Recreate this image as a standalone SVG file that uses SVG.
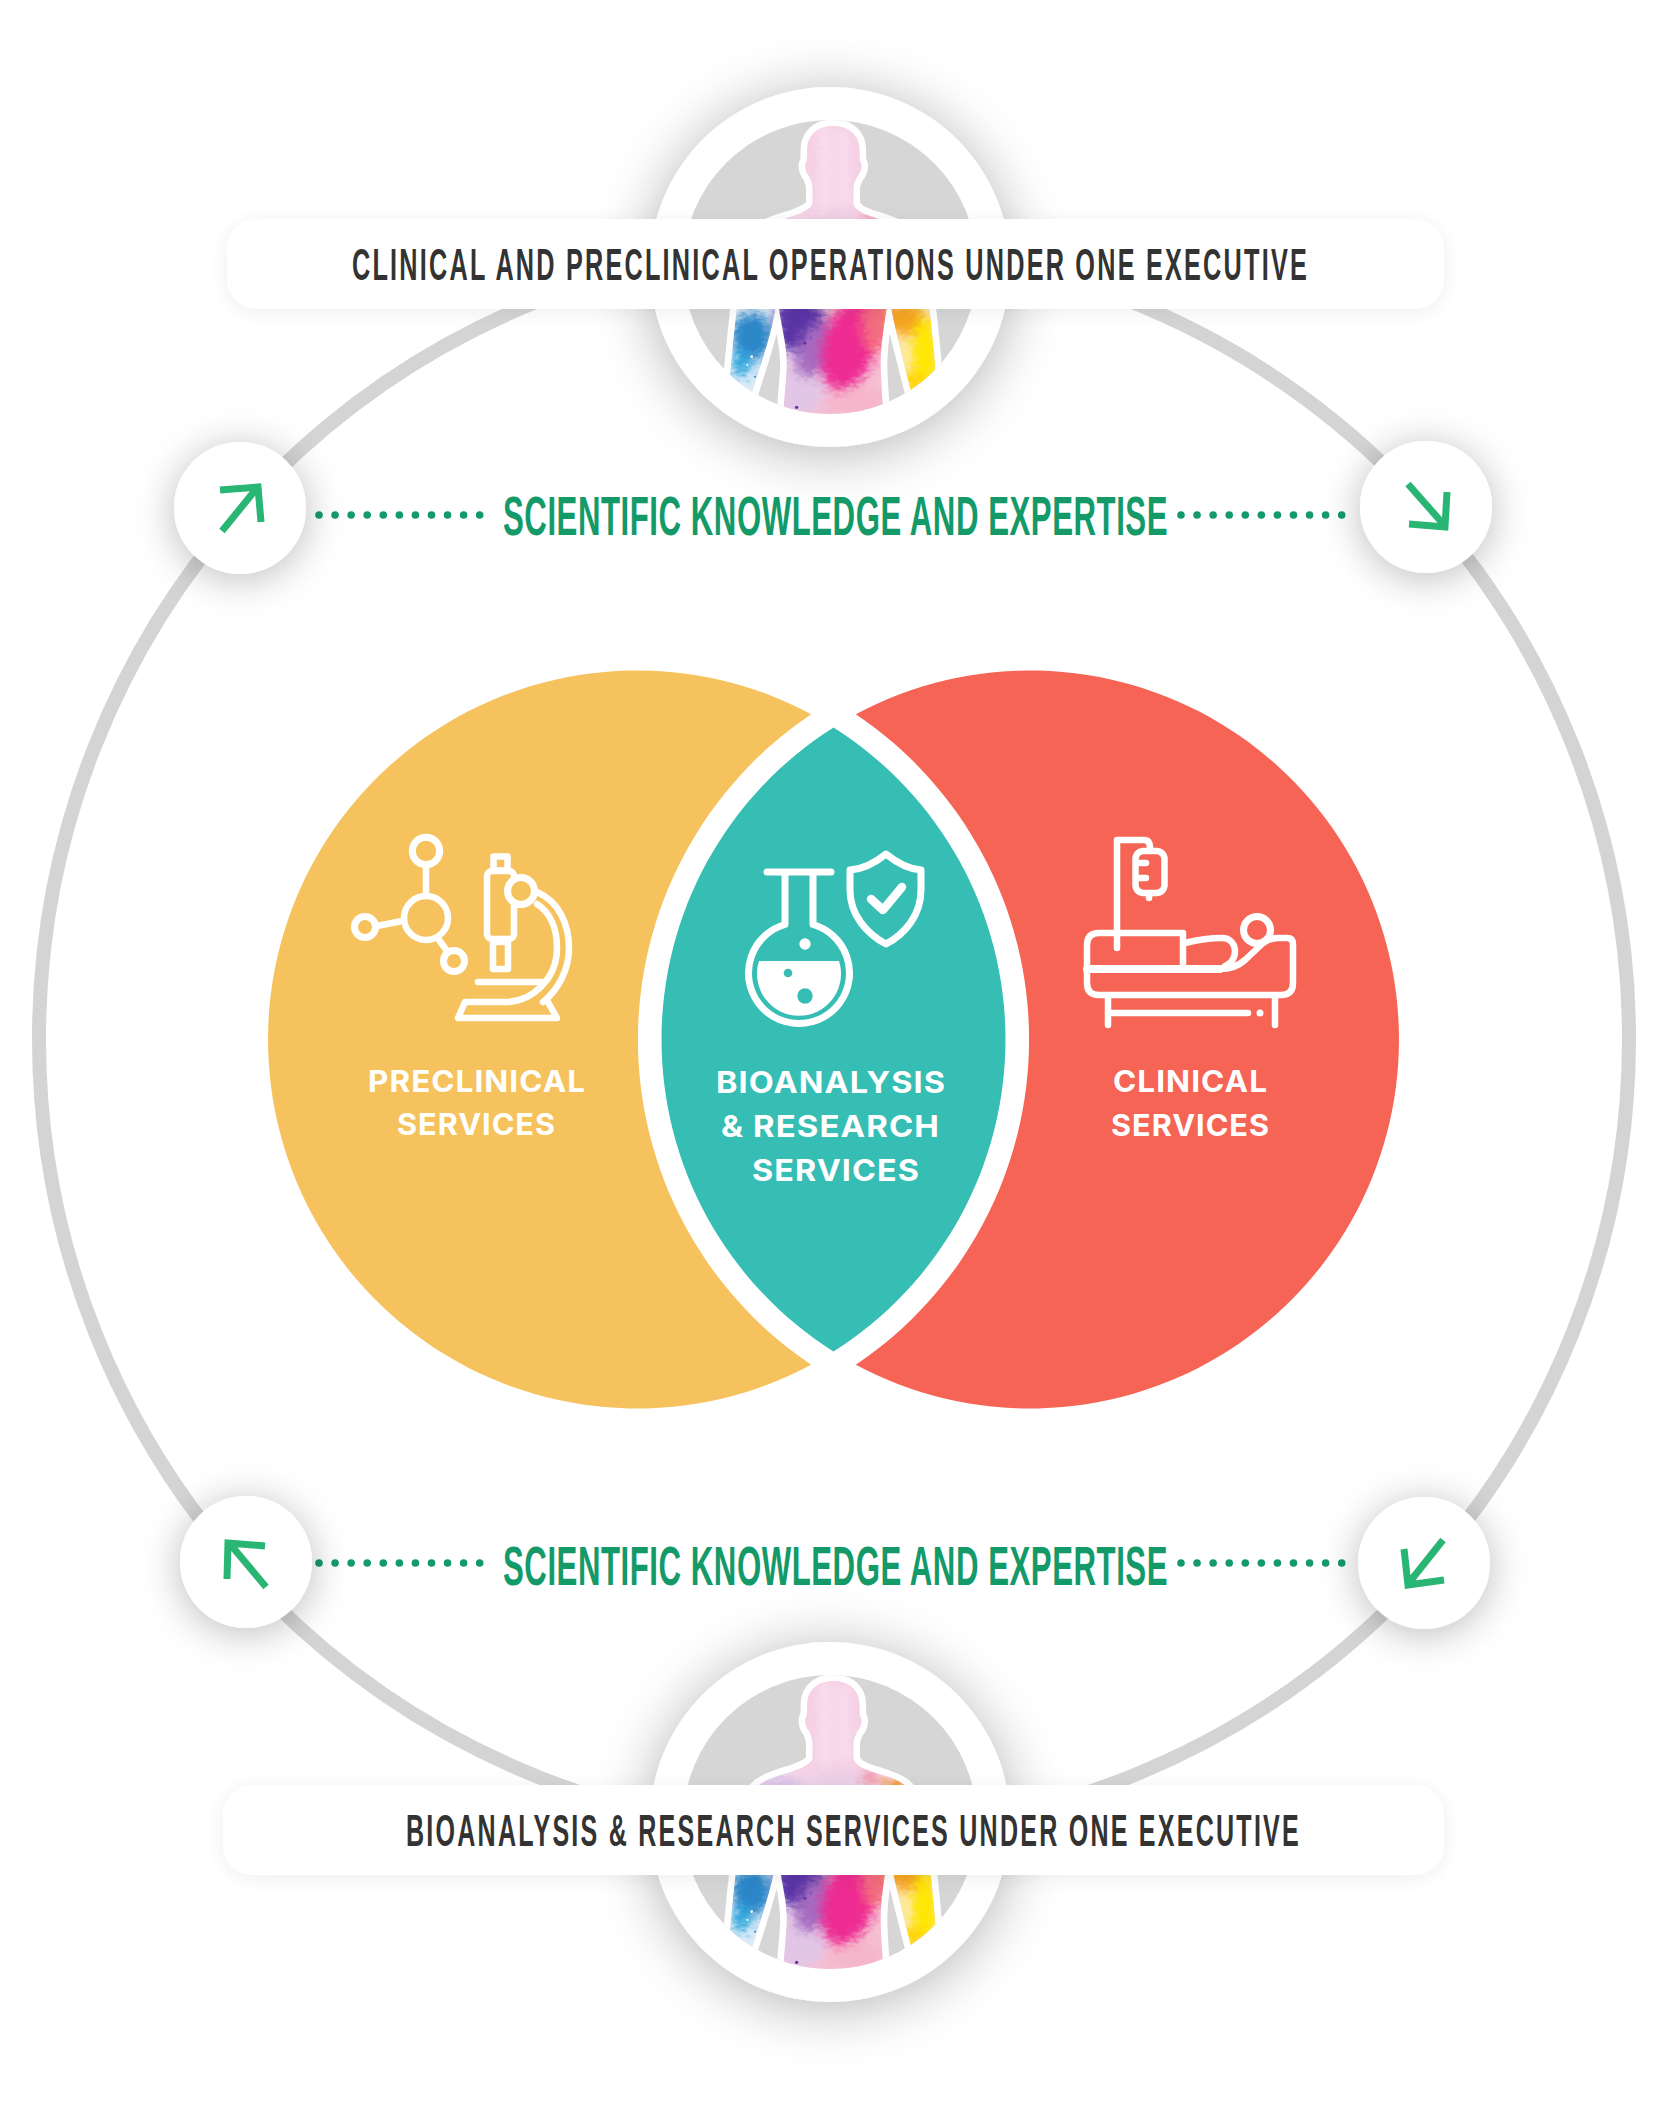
<svg xmlns="http://www.w3.org/2000/svg" xmlns:xlink="http://www.w3.org/1999/xlink" width="1675" height="2103" viewBox="0 0 1675 2103">
<style>
.ring{fill:none;stroke:#d4d4d4;stroke-width:14}
.dots{fill:none;stroke:#149a69;stroke-width:7.6;stroke-linecap:round;stroke-dasharray:0 16.07}
.arrow{fill:none;stroke:#29b573;stroke-width:7;stroke-linecap:butt;stroke-linejoin:miter}
.disc{fill:#fff}
.sci{font-family:"Liberation Sans Narrow","Liberation Sans",sans-serif;font-weight:700;font-size:56px;letter-spacing:1px;fill:#149a69}
.bar-t{font-family:"Liberation Sans Narrow","Liberation Sans",sans-serif;font-weight:700;font-size:45px;letter-spacing:4px;fill:#333}
.lab{font-family:Inter,"Liberation Sans",sans-serif;font-weight:700;font-size:30px;letter-spacing:1px;fill:#fff}
.ic{fill:none;stroke:#fff;stroke-width:6.5;stroke-linecap:round;stroke-linejoin:round}
.wf{fill:#fff}
</style>
<defs>
<filter id="sh" x="-70%" y="-70%" width="240%" height="240%"><feGaussianBlur in="SourceAlpha" stdDeviation="30"/><feOffset dy="6"/><feComponentTransfer><feFuncA type="linear" slope="0.3"/></feComponentTransfer><feMerge><feMergeNode/><feMergeNode in="SourceGraphic"/></feMerge></filter>
<filter id="shs" x="-70%" y="-70%" width="240%" height="240%"><feGaussianBlur in="SourceAlpha" stdDeviation="20"/><feOffset dy="5"/><feComponentTransfer><feFuncA type="linear" slope="0.27"/></feComponentTransfer><feMerge><feMergeNode/><feMergeNode in="SourceGraphic"/></feMerge></filter>
<filter id="shb" x="-10%" y="-60%" width="120%" height="220%"><feGaussianBlur in="SourceAlpha" stdDeviation="10"/><feOffset dy="3"/><feComponentTransfer><feFuncA type="linear" slope="0.07"/></feComponentTransfer><feMerge><feMergeNode/><feMergeNode in="SourceGraphic"/></feMerge></filter>
<filter id="powder" x="-10%" y="-10%" width="120%" height="120%" color-interpolation-filters="sRGB"><feGaussianBlur stdDeviation="16" result="b"/><feTurbulence type="fractalNoise" baseFrequency="0.05 0.09" numOctaves="3" seed="4" result="n"/><feDisplacementMap in="b" in2="n" scale="35" xChannelSelector="R" yChannelSelector="G"/></filter>
<clipPath id="dial"><circle cx="570" cy="561" r="441"/></clipPath>
<path id="sil" d="M580 138C535 138 503 165 502 205C501 225 503 240 497 250C493 262 500 282 508 288C512 300 518 310 518 325L518 372C512 386 490 398 460 408C420 421 380 431 355 451C325 476 312 530 302 600C290 680 280 780 270 890L335 940C360 860 395 760 405 690L412 650C420 730 445 800 440 870C437 920 432 960 430 1010L730 1010C728 960 722 900 722 850C722 790 735 720 745 650L755 690C770 770 795 860 815 940L888 890C880 780 868 680 858 600C848 530 825 476 795 451C770 431 730 421 690 408C660 398 645 386 640 372L640 325C640 310 648 300 652 288C660 282 667 262 663 250C657 240 659 225 658 205C657 165 625 138 580 138Z"/>
<clipPath id="silc"><use href="#sil"/></clipPath>
<g id="person">
<circle cx="570" cy="561" r="441" fill="#d6d6d6"/>
<g clip-path="url(#dial)">
<use href="#sil" fill="#fff" stroke="#fff" stroke-width="40" stroke-linejoin="round"/>
<g clip-path="url(#silc)">
<rect x="240" y="100" width="680" height="930" fill="#f7d8e9"/>
<g filter="url(#powder)">
<rect x="470" y="110" width="220" height="310" fill="#f5d0e5"/>
<path d="M555 140V390M610 150V380" stroke="#fbe6f1" stroke-width="22" fill="none"/>
<ellipse cx="420" cy="455" rx="80" ry="30" fill="#d8c4ea"/>
<ellipse cx="590" cy="440" rx="80" ry="30" fill="#e9cfe8"/>
<ellipse cx="775" cy="455" rx="55" ry="24" fill="#f2962c"/>
<ellipse cx="690" cy="430" rx="25" ry="18" fill="#ea7d92"/>
<rect x="405" y="640" width="350" height="400" fill="#f5bfd2"/>
<ellipse cx="480" cy="890" rx="85" ry="120" fill="#e2c6e6"/>
<ellipse cx="470" cy="730" rx="85" ry="85" fill="#5a34a6"/>
<ellipse cx="520" cy="810" rx="45" ry="85" fill="#a56cc0" transform="rotate(20 520 810)"/>
<ellipse cx="630" cy="790" rx="80" ry="145" fill="#ee2b92" transform="rotate(18 630 790)"/>
<ellipse cx="705" cy="730" rx="42" ry="90" fill="#f36b80"/>
<ellipse cx="650" cy="965" rx="90" ry="45" fill="#f5b6cb"/>
<rect x="230" y="620" width="180" height="420" fill="#dcecf7"/>
<ellipse cx="335" cy="770" rx="62" ry="72" fill="#2b86c8"/>
<ellipse cx="305" cy="850" rx="28" ry="42" fill="#2aa5da"/>
<rect x="750" y="620" width="170" height="420" fill="#fde9a8"/>
<ellipse cx="795" cy="715" rx="55" ry="52" fill="#f6a521"/>
<ellipse cx="855" cy="815" rx="38" ry="105" fill="#ffe600"/>
<ellipse cx="820" cy="905" rx="35" ry="32" fill="#ffd400"/>
</g>
<circle cx="495" cy="790" r="4" fill="#5a34a6"/><circle cx="512" cy="775" r="3" fill="#7a4ab5"/><circle cx="470" cy="982" r="5" fill="#5a34a6"/><circle cx="322" cy="855" r="3" fill="#fff"/><circle cx="345" cy="890" r="3" fill="#2b86c8"/><circle cx="335" cy="830" r="4" fill="#fff"/>
</g>
</g>
</g>
</defs>
<rect width="1675" height="2103" fill="#fff"/>

<g id="connectors">
<circle class="ring" cx="834" cy="1039" r="795"/>
<path class="dots" d="M319 515H482"/>
<path class="dots" d="M1181 515H1344"/>
<path class="dots" d="M319 1563H482"/>
<path class="dots" d="M1181 1563H1344"/>
</g>

<g id="top-person-node">
<circle class="disc" cx="830" cy="267" r="180" filter="url(#sh)"/>
<use href="#person" transform="translate(640 80) scale(.33333)"/>
</g>
<g id="bottom-person-node">
<circle class="disc" cx="830" cy="1822" r="180" filter="url(#sh)"/>
<use href="#person" transform="translate(640 1635) scale(.33333)"/>
</g>
<g id="top-bar">
<rect class="disc" x="227" y="219" width="1217" height="90" rx="30" filter="url(#shb)"/>
<text class="bar-t" x="352" y="280" textLength="957" lengthAdjust="spacingAndGlyphs">CLINICAL AND PRECLINICAL OPERATIONS UNDER ONE EXECUTIVE</text>
</g>
<g id="bottom-bar">
<rect class="disc" x="223" y="1785" width="1221" height="90" rx="30" filter="url(#shb)"/>
<text class="bar-t" x="406" y="1846" textLength="895" lengthAdjust="spacingAndGlyphs">BIOANALYSIS &amp; RESEARCH SERVICES UNDER ONE EXECUTIVE</text>
</g>

<g id="arrow-tl"><circle class="disc" cx="240" cy="508" r="66" filter="url(#shs)"/><path class="arrow" d="M222 531L257 488M220 490L258 487L261 522"/></g>
<g id="arrow-tr"><circle class="disc" cx="1426" cy="507" r="66" filter="url(#shs)"/><path class="arrow" d="M1408 484L1445 526M1447 492L1445 527L1409 524"/></g>
<g id="arrow-bl"><circle class="disc" cx="246" cy="1562" r="66" filter="url(#shs)"/><path class="arrow" d="M266 1587L230 1544M227 1579L228 1543L265 1546"/></g>
<g id="arrow-br"><circle class="disc" cx="1424" cy="1563" r="66" filter="url(#shs)"/><path class="arrow" d="M1443 1540L1408 1584M1404 1549L1408 1585L1444 1580"/></g>

<text class="sci" x="503" y="535" textLength="665" lengthAdjust="spacingAndGlyphs">SCIENTIFIC KNOWLEDGE AND EXPERTISE</text>
<text class="sci" x="503" y="1585" textLength="665" lengthAdjust="spacingAndGlyphs">SCIENTIFIC KNOWLEDGE AND EXPERTISE</text>

<g id="preclinical">
<path fill="#f6c25e" d="M811.2 714.2A369 369 0 1 0 811.2 1364.8A392 392 0 0 1 811.2 714.2Z"/>
<g class="ic">
<circle cx="426" cy="851" r="13.7" stroke-width="7"/><circle cx="426" cy="918" r="22"/><circle cx="365" cy="927" r="10.5" stroke-width="7"/><circle cx="454" cy="961" r="10.5" stroke-width="7"/>
<path d="M426 867V894M377 926L402 921M439 940L447 951"/>
<rect x="493.500" y="856.500" width="14" height="14"/>
<rect x="487" y="871" width="27" height="68" rx="5"/>
<rect x="493" y="942" width="15" height="27"/>
<path d="M537 892C560 902 569 926 569 948C569 970 558 990 543 1002"/>
<path d="M537 904C551 913 557 930 557 948C557 978 533 1002 505 1002L465 1002L458 1018L557 1018L548 1002"/>
<path d="M478 982H543"/>
<circle cx="521" cy="891" r="13.500" stroke-width="7" fill="#f6c25e"/>
</g>
<text class="lab" x="368" y="1092" textLength="218" lengthAdjust="spacingAndGlyphs">PRECLINICAL</text>
<text class="lab" x="397" y="1135" textLength="159" lengthAdjust="spacingAndGlyphs">SERVICES</text>
</g>

<g id="clinical">
<path fill="#f56455" d="M855.8 714.2A369 369 0 1 1 855.8 1364.8A392 392 0 0 0 855.8 714.2Z"/>
<g class="ic">
<path d="M1117 948V840H1144Q1150 840 1150 848"/>
<rect x="1135.500" y="851" width="29" height="42" rx="8"/>
<path d="M1139 863H1146M1139 878H1146M1149 896V898"/>
<path d="M1183 969V933H1099Q1087 933 1087 945V983Q1087 995 1099 995H1281Q1293 995 1293 983V944Q1293 938 1287 938H1278Q1270 938 1263 943L1245 960Q1235 969 1220 969H1087" />
<path d="M1087 969H1220" stroke-width="8"/>
<path d="M1185 943C1197 940 1212 938 1222 938C1231 938 1235 945 1235 951C1235 958 1231 964 1225 966"/>
<circle cx="1257" cy="930" r="13.500" stroke-width="7"/>
<path d="M1108 998V1025M1275 998V1025M1108 1013H1248"/>
</g>
<circle class="wf" cx="1260" cy="1013" r="3.500"/>
<text class="lab" x="1113" y="1092" textLength="155" lengthAdjust="spacingAndGlyphs">CLINICAL</text>
<text class="lab" x="1111" y="1136" textLength="159" lengthAdjust="spacingAndGlyphs">SERVICES</text>
</g>

<g id="bioanalysis">
<path fill="#36bdb4" d="M833.5 727.500A369 369 0 0 1 833.5 1351.500A369 369 0 0 1 833.5 727.500Z"/>
<g class="ic">
<path d="M767 872H831M785 872V924.500A50.500 50.500 0 1 0 813 924.500V872" stroke-width="7"/>
<path d="M886 854C897 863 908 869 921 870V890C921 915 905 934 886 944C867 934 850 915 850 890V870C864 869 875 863 886 854Z" stroke-width="7"/>
<path d="M871 899L883 910L902 887" stroke-width="8.500"/>
</g>
<path class="wf" d="M759 961H839A42 42 0 1 1 759 961Z"/>
<circle class="wf" cx="805" cy="944" r="5.700"/>
<circle cx="788" cy="973" r="4.300" fill="#36bdb4"/>
<circle cx="805" cy="996" r="7.700" fill="#36bdb4"/>
<text class="lab" x="716" y="1093" textLength="230" lengthAdjust="spacingAndGlyphs">BIOANALYSIS</text>
<text class="lab" x="721" y="1137" textLength="219" lengthAdjust="spacingAndGlyphs">&amp; RESEARCH</text>
<text class="lab" x="752" y="1181" textLength="168" lengthAdjust="spacingAndGlyphs">SERVICES</text>
</g>
</svg>
